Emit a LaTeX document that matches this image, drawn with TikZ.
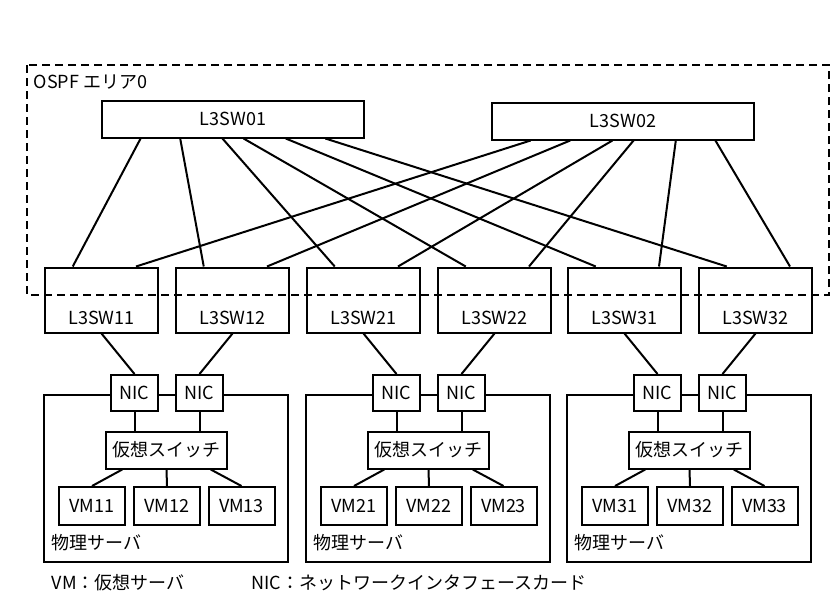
\documentclass[tikz,border=0pt]{standalone}
\usepackage{fontspec}
\setmainfont[Numbers=SlashedZero]{Noto Sans CJK JP}
\usetikzlibrary{positioning,calc}

\begin{document}
\begin{tikzpicture}[x=0.5pt, y=-0.5pt, line width=1pt,
    every node/.style={font=\fontsize{9}{10}\selectfont},
    box/.style={draw, inner sep=0pt},
    topsw/.style={box, minimum width=131pt, minimum height=18.5pt},
    lowsw/.style={box, minimum width=56.5pt, minimum height=32.5pt},
    nic/.style={box, fill=white, minimum width=23.5pt, minimum height=18pt},
    vsw/.style={box, minimum width=60.5pt, minimum height=18.5pt},
    vm/.style={box, minimum width=33pt, minimum height=19pt},
    srv/.style={box, minimum width=122pt, minimum height=83.5pt},
    area/.style={dash pattern=on 4pt off 2.5pt}]
  \useasboundingbox (0,0) rectangle (840,602);

  % core switches
  \node[topsw] (sw01) at (233,119) {L3SW01};
  \node[topsw] (sw02) at (623,121) {L3SW02};

  % three server groups
  \foreach \g/\L in {1/44, 2/306, 3/567} {
    \node[lowsw] (sw\g1) at (\L+57.5,300) {};
    \node[lowsw] (sw\g2) at (\L+188.5,300) {};
    \node (sw\g1t) at ([yshift=-9pt]sw\g1.center) {L3SW\g1};
    \node (sw\g2t) at ([yshift=-9pt]sw\g2.center) {L3SW\g2};
    \node[srv] (srv\g) at (\L+122,478.5) {};
    \node[anchor=west] (lbl\g) at (\L,543) {物理サーバ};
    \node[nic] (nic\g1) at (\L+90.5,393) {NIC};
    \node[nic] (nic\g2) at (\L+155.5,393) {NIC};
    \node[vsw] (vsw\g) at (\L+122.5,450) {仮想スイッチ};
    \node[vm] (vm\g1) at (\L+48,506) {VM\g1};
    \node[vm] (vm\g2) at (\L+123,506) {VM\g2};
    \node[vm] (vm\g3) at (\L+197.5,506) {VM\g3};
    \draw (sw\g1.south) -- (nic\g1.north);
    \draw (sw\g2.south) -- (nic\g2.north);
    \draw (nic\g1.south) -- (nic\g1.south |- vsw\g.north);
    \draw (nic\g2.south) -- (nic\g2.south |- vsw\g.north);
    \draw ($(vsw\g.south west)!0.14!(vsw\g.south east)$) -- (vm\g1.north);
    \draw (vsw\g.south) -- (vm\g2.north);
    \draw ($(vsw\g.south west)!0.86!(vsw\g.south east)$) -- (vm\g3.north);
  }

  % full mesh to the core
  \foreach \t/\f in {11/0.15, 12/0.30, 21/0.46, 22/0.54, 31/0.70, 32/0.85} {
    \draw ($(sw01.south west)!\f!(sw01.south east)$) -- ($(sw\t.north west)!0.25!(sw\t.north east)$);
    \draw ($(sw02.south west)!\f!(sw02.south east)$) -- ($(sw\t.north west)!0.8!(sw\t.north east)$);
  }

  % OSPF area
  \draw[area] (27,65) rectangle (829,295);
  \node[anchor=west] (ospf) at (26,82) {OSPF エリア0};

  % legend
  \node[anchor=west] (keyvm) at (44,583) {VM：仮想サーバ};
  \node[anchor=west] (keynic) at (244,583) {NIC：ネットワークインタフェースカード};
\end{tikzpicture}
\end{document}
